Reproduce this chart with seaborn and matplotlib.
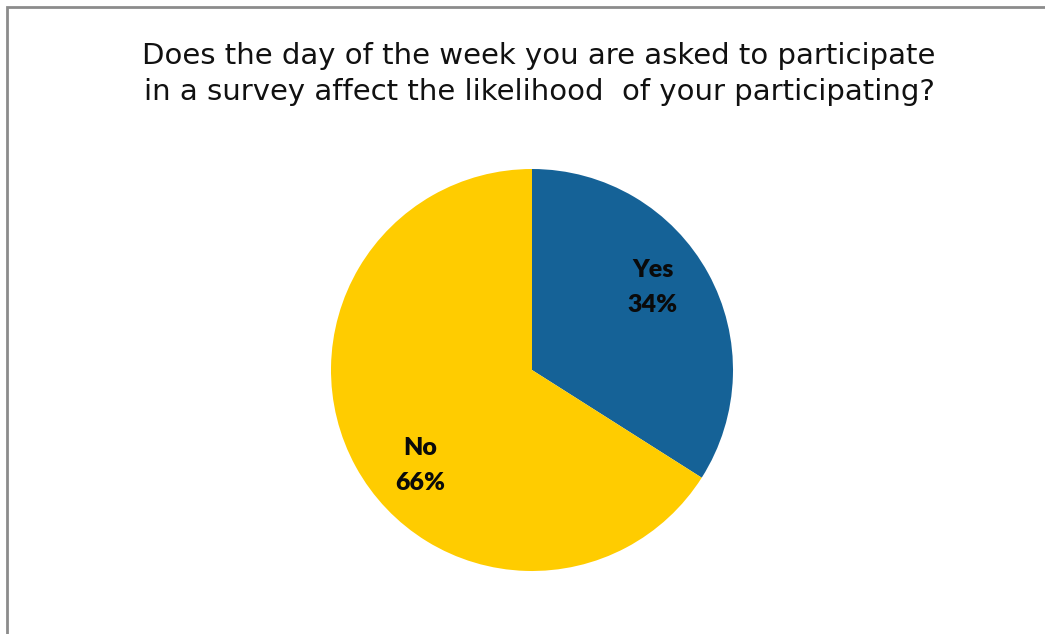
import matplotlib
matplotlib.use("Agg")
import matplotlib.pyplot as plt
import seaborn as sns
from matplotlib.patches import Rectangle

# Survey answers
categories = ["Yes", "No"]
shares = [34, 66]
colors = ["#156297", "#FFCC00"]
title = ("Does the day of the week you are asked to participate\n"
         "in a survey affect the likelihood  of your participating?")

sns.set_theme(style="white")
plt.rcParams["font.family"] = ["DejaVu Sans"]

W, H = 1045, 634
fig = plt.figure(figsize=(W / 100, H / 100), dpi=100)
fig.patch.set_facecolor("white")

# Chart frame (open at the right and bottom edges)
fig.patches.append(Rectangle((7 / W, -0.1), 1.2, 1 - 7 / H + 0.1,
                             transform=fig.transFigure, fill=False,
                             edgecolor="#8c8c8c", linewidth=2.0))

fig.text(539 / W, 1 - 74 / H, title, ha="center", va="center",
         fontsize=21, color="#111111", linespacing=1.33)

# Pie centred at (532, 370) px with radius 201 px
r = 201
ax = fig.add_axes([(532 - r) / W, 1 - (370 + r) / H, 2 * r / W, 2 * r / H])
ax.pie(shares, colors=colors, startangle=90, counterclock=False,
       radius=1.0, wedgeprops=dict(linewidth=0))
ax.set_xlim(-1, 1)
ax.set_ylim(-1, 1)
ax.set_aspect("equal")
ax.axis("off")

label_pos = [(0.600, 0.412), (-0.555, -0.473)]
for name, val, (x, y) in zip(categories, shares, label_pos):
    ax.text(x, y, f"{name}\n{val}%", ha="center", va="center",
            fontsize=18, fontweight="heavy",
            family=["Lato", "DejaVu Sans"],
            color="#0a0a0a", linespacing=1.72)

fig.savefig("out.png", dpi=100, facecolor="white")
